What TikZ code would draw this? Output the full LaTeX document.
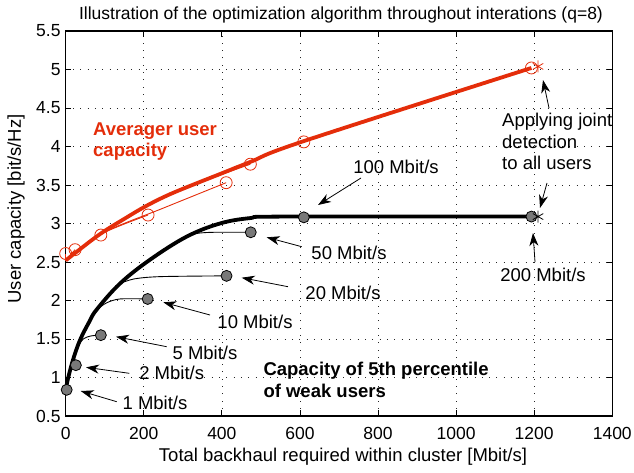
\documentclass[tikz,border=0pt]{standalone}
\usepackage{fontspec}
\setmainfont{Liberation Sans}
\usetikzlibrary{arrows.meta, plotmarks}
\definecolor{capred}{RGB}{228,45,10}
\definecolor{dotgray}{RGB}{120,120,120}
\tikzset{
	lbl/.style={font=\fontsize{18.5}{21.5}\selectfont, inner sep=0pt},
	boldlbl/.style={font=\fontsize{18.5}{21.5}\selectfont\bfseries, inner sep=0pt},
	ticklbl/.style={font=\fontsize{17.5}{20}\selectfont, inner sep=0pt},
	gridline/.style={line width=0.7pt, dash pattern=on 0.8pt off 6.5pt, black!85},
	pointer/.style={-{Stealth[length=13pt, width=9pt, inset=4pt]}, line width=0.8pt},
	bdot/.style={circle, draw, fill=dotgray, line width=0.8pt, minimum size=11pt, inner sep=0pt},
	rdot/.style={circle, draw=capred, line width=0.8pt, minimum size=12pt, inner sep=0pt},
	thickcurve/.style={line width=3.8pt, line join=round},
	thincurve/.style={line width=0.9pt},
}

\begin{document}
\begin{tikzpicture}[x=1pt, y=-1pt]
	\useasboundingbox (0,0) rectangle (634,473);

	% axes in data units
	\begin{scope}[shift={(65.7,454.5)}, x=0.3904pt, y=77pt]
		\foreach \gx in {200,400,...,1200}
			\draw[gridline] (\gx,0.5) -- (\gx,5.5);
		\foreach \gy in {1,1.5,2,2.5,3,3.5,4,4.5,5}
			\draw[gridline] (0,\gy) -- (1400,\gy);
		\foreach \gx in {0,200,...,1400} {
			\draw[line width=0.8pt] (\gx,0.5) -- ++(0,0.072);
			\draw[line width=0.8pt] (\gx,5.5) -- ++(0,-0.072);
			\node[ticklbl, anchor=base, yshift=-23.3pt] (xt\gx) at (\gx,0.5) {\gx};
		}
		\foreach \gy [count=\i] in {0.5,1,1.5,2,2.5,3,3.5,4,4.5,5,5.5} {
			\draw[line width=0.8pt] (0,\gy) -- ++(14,0);
			\draw[line width=0.8pt] (1400,\gy) -- ++(-14,0);
			\node[ticklbl, anchor=east, xshift=-5pt] (yt\i) at (0,\gy) {\gy};
		}
		\draw[line width=1.1pt] (0,0.5) rectangle (1400,5.5);

		% weak users
		\draw[thincurve] plot[smooth] coordinates {(12,1.08) (20,1.13) (26,1.16)};
		\draw[thincurve] plot[smooth] coordinates {(28,1.38) (45,1.5) (65,1.54) (90,1.55)};
		\draw[thincurve] plot[smooth] coordinates {(79,1.88) (105,1.97) (139,2.02) (210,2.02)};
		\draw[thincurve] plot[smooth] coordinates {(139,2.22) (175,2.28) (242,2.31) (412,2.32)};
		\draw[thincurve] plot[smooth] coordinates {(300,2.81) (335,2.87) (380,2.886) (474,2.886)};
		\draw[thickcurve] plot[smooth, tension=0.6] coordinates {(0,0.84) (7,1.01) (20,1.25) (37,1.49) (60,1.72) (79,1.88) (139,2.22) (216,2.53) (310,2.83) (395,3.0) (472,3.07) (560,3.09) (1193,3.09)};

		% average users
		\draw[thincurve, capred] (0,2.52) -- (0,2.61);
		\draw[thincurve, capred] (0,2.52) -- (24,2.66);
		\draw[thincurve, capred] plot[smooth] coordinates {(0,2.52) (90,2.86) (211,3.11)};
		\draw[thincurve, capred] plot[smooth] coordinates {(0,2.52) (96,2.88) (250,3.2) (411,3.53)};
		\draw[thincurve, capred] plot[smooth] coordinates {(0,2.52) (90,2.86) (207,3.23) (344,3.53) (473,3.77)};
		\draw[thickcurve, capred] plot[smooth, tension=0.6] coordinates {(0,2.52) (30,2.64) (90,2.87) (150,3.06) (207,3.23) (267,3.38) (344,3.54) (389,3.63) (473,3.8) (610,4.07) (1193,5.02)};

		\foreach \px/\py [count=\i] in {2.5/0.84, 26/1.16, 90/1.55, 210/2.02, 412/2.32, 474/2.886, 610/3.08, 1193/3.09}
			\node[bdot] (b\i) at (\px,\py) {};
		\foreach \px/\py [count=\i] in {0/2.61, 24/2.66, 90/2.85, 211/3.11, 411/3.53, 473/3.77, 610/4.06, 1193/5.02}
			\node[rdot] (r\i) at (\px,\py) {};
		\draw[line width=0.8pt] plot[only marks, mark=asterisk, mark size=6pt] coordinates {(1210,3.09)};
		\draw[line width=0.8pt, capred] plot[only marks, mark=asterisk, mark size=6pt] coordinates {(1210,5.04)};
	\end{scope}

	% texts
	\node[lbl, font=\fontsize{17.5}{20}\selectfont, anchor=base] (title) at (341,19.5) {Illustration of the optimization algorithm throughout interations (q=8)};
	\node[lbl, anchor=base] (xlab) at (343,461) {Total backhaul required within cluster [Mbit/s]};
	\node[lbl, rotate=90] (ylab) at (16,209) {User capacity [bit/s/Hz]};
	\node[boldlbl, text=capred, align=left, anchor=west] (avg) at (93,141.5) {Averager user\\capacity};
	\node[boldlbl, align=left, anchor=west] (weak) at (263.3,380) {Capacity of 5th percentile\\of weak users};
	\node[lbl, align=left, anchor=west] (joint) at (502,141.7) {Applying joint\\detection\\to all users};

	\node[lbl] (m1) at (155,402.7) {1 Mbit/s};
	\node[lbl] (m2) at (171.7,373.3) {2 Mbit/s};
	\node[lbl] (m5) at (205,352.7) {5 Mbit/s};
	\node[lbl] (m10) at (255,321.7) {10 Mbit/s};
	\node[lbl] (m20) at (343,293) {20 Mbit/s};
	\node[lbl] (m50) at (349,253) {50 Mbit/s};
	\node[lbl] (m100) at (396,167) {100 Mbit/s};
	\node[lbl] (m200) at (543,275) {200 Mbit/s};

	% pointers
	\coordinate (p1t) at (116.7,401.7); \coordinate (p1h) at (80.7,391);
	\coordinate (p2t) at (129.3,373.3); \coordinate (p2h) at (86,367.3);
	\coordinate (p5t) at (166.7,346.7); \coordinate (p5h) at (116,336.7);
	\coordinate (p10t) at (210,315); \coordinate (p10h) at (163.3,302.3);
	\coordinate (p20t) at (288,286.7); \coordinate (p20h) at (241.7,277.7);
	\coordinate (p50t) at (301.7,246.7); \coordinate (p50h) at (266.7,237.3);
	\coordinate (p100t) at (361,178); \coordinate (p100h) at (318,205);
	\coordinate (p200t) at (535,262); \coordinate (p200h) at (533,233);
	\coordinate (pj1t) at (549,108); \coordinate (pj1h) at (543,80);
	\coordinate (pj2t) at (547,183); \coordinate (pj2h) at (540,208);

	\draw[pointer] (p1t) -- (p1h);
	\draw[pointer] (p2t) -- (p2h);
	\draw[pointer] (p5t) -- (p5h);
	\draw[pointer] (p10t) -- (p10h);
	\draw[pointer] (p20t) -- (p20h);
	\draw[pointer] (p50t) -- (p50h);
	\draw[pointer] (p100t) -- (p100h);
	\draw[pointer] (p200t) -- (p200h);
	\draw[pointer] (pj1t) -- (pj1h);
	\draw[pointer] (pj2t) -- (pj2h);
\end{tikzpicture}
\end{document}
